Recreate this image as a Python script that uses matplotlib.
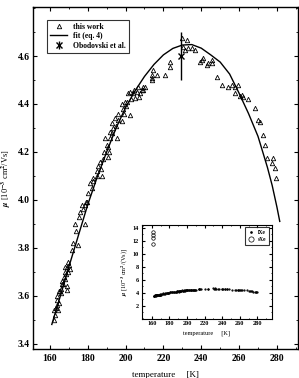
import matplotlib
matplotlib.use('Agg')
import matplotlib.pyplot as plt
import numpy as np
from matplotlib.ticker import MultipleLocator

plt.rcParams['font.family'] = ['Liberation Serif', 'DejaVu Serif']
plt.rcParams['font.weight'] = 'bold'
plt.rcParams['mathtext.fontset'] = 'stix'

# measured points (this work), temperature [K] and mobility
t_data = [162.0, 162.6, 163.0, 162.4, 163.5, 164.4, 164.0, 164.8, 163.8, 165.3,
          164.6, 166.0, 165.8, 167.0, 166.5, 168.8, 168.8, 167.5, 168.0, 168.5,
          169.0, 169.5, 170.0, 170.6, 169.3, 168.2, 171.5, 172.3, 175.0, 173.8,
          173.2, 178.5, 175.2, 176.0, 177.6, 178.5, 179.0, 177.0, 166.2, 167.8,
          179.4, 180.3, 182.0, 182.9, 181.2, 184.7, 187.3, 185.6, 186.5, 188.2,
          190.8, 190.8, 190.0, 189.1, 191.7, 195.3, 191.7, 192.6, 194.4, 193.5,
          197.9, 196.1, 202.3, 196.1, 197.9, 199.7, 200.6, 198.8, 201.4, 202.3,
          204.1, 205.0, 207.6, 208.5, 206.7, 210.3, 213.8, 209.4, 209.4, 214.7,
          213.8, 216.5, 220.9, 213.8, 223.5, 223.5, 183.0, 185.0, 187.0, 188.5,
          191.0, 193.0, 195.0, 199.0, 200.0, 203.0, 204.5, 206.0, 207.0,
          229.7, 232.3, 230.5, 233.2, 235.0, 231.4, 236.7, 240.3, 241.1, 239.4,
          243.7, 245.5, 245.5, 242.9, 248.2, 250.8, 254.3, 256.1, 257.9, 259.6,
          257.9, 260.5, 261.4, 262.3, 264.9, 268.5, 270.2, 271.1, 272.9, 273.8,
          274.7, 277.3, 278.1, 279.0, 279.6]
mu_data = [3.50, 3.52, 3.55, 3.54, 3.56, 3.54, 3.58, 3.57, 3.60, 3.62,
           3.62, 3.61, 3.63, 3.65, 3.66, 3.64, 3.625, 3.68, 3.70, 3.69,
           3.72, 3.70, 3.73, 3.71, 3.74, 3.72, 3.79, 3.82, 3.81, 3.87,
           3.90, 3.90, 3.93, 3.95, 3.96, 3.98, 3.99, 3.98, 3.65, 3.67,
           3.99, 4.03, 4.05, 4.08, 4.07, 4.10, 4.10, 4.14, 4.16, 4.17,
           4.18, 4.22, 4.23, 4.26, 4.26, 4.26, 4.285, 4.32, 4.34, 4.30,
           4.33, 4.335, 4.354, 4.36, 4.40, 4.41, 4.41, 4.38, 4.444, 4.451,
           4.444, 4.424, 4.444, 4.458, 4.472, 4.472, 4.507, 4.472, 4.458, 4.542,
           4.52, 4.52, 4.52, 4.50, 4.576, 4.556, 4.09, 4.12, 4.13, 4.20,
           4.20, 4.28, 4.31, 4.36, 4.39, 4.42, 4.46, 4.45, 4.43,
           4.674, 4.667, 4.639, 4.632, 4.632, 4.625, 4.625, 4.583, 4.59, 4.576,
           4.569, 4.583, 4.569, 4.562, 4.514, 4.479, 4.472, 4.479, 4.472, 4.479,
           4.444, 4.433, 4.438, 4.428, 4.419, 4.382, 4.333, 4.326, 4.271, 4.229,
           4.174, 4.153, 4.174, 4.132, 4.093]

# fit (eq. 4)
t_fit = [161.0, 165, 170, 175, 180, 185, 190, 195, 200, 205, 210, 215, 220,
         225, 230, 235, 240, 245, 250, 255, 260, 265, 270, 275, 277.5, 280, 281.5]
mu_fit = [3.48, 3.585, 3.72, 3.85, 3.98, 4.095, 4.20, 4.30, 4.385, 4.455, 4.515,
          4.565, 4.605, 4.632, 4.646, 4.648, 4.633, 4.605, 4.575, 4.525, 4.445,
          4.36, 4.265, 4.135, 4.06, 3.97, 3.91]

# Obodovski et al.
t_obo = [229.5]
mu_obo = [4.60]
err_obo = [0.10]

# inset: solid xenon points
t_sxe = [161.5, 161.5, 161.5, 161.5]
mu_sxe = [13.3, 12.9, 12.4, 11.5]

fig = plt.figure(figsize=(2.99, 3.78), dpi=100)
ax = fig.add_axes([0.110, 0.077, 0.887, 0.904])

ax.plot(t_data, mu_data, linestyle='none', marker='^', markersize=3.2,
        mfc='none', mec='black', mew=0.6, label='this work')
ax.plot(t_fit, mu_fit, color='black', lw=1.0, label='fit (eq. 4)')
ax.errorbar(t_obo, mu_obo, yerr=err_obo, fmt='x', color='black', markersize=4,
            mew=1.0, elinewidth=1.0, capsize=0, label='Obodovski et al.')

ax.set_xlim(151, 291.2)
ax.set_ylim(3.378, 4.804)
ax.xaxis.set_major_locator(MultipleLocator(20))
ax.xaxis.set_minor_locator(MultipleLocator(10))
ax.yaxis.set_major_locator(MultipleLocator(0.2))
ax.yaxis.set_minor_locator(MultipleLocator(0.1))
ax.tick_params(which='both', direction='in', top=True, right=True, labelsize=7)
ax.tick_params(axis='y', pad=2.5)
ax.tick_params(which='major', length=3)
ax.tick_params(which='minor', length=1.5)
ax.set_yticks([3.4, 3.6, 3.8, 4.0, 4.2, 4.4, 4.6])
ax.set_yticklabels(['3.4', '3.6', '3.8', '4.0', '4.2', '4.4', '4.6'])
ax.set_xticks([160, 180, 200, 220, 240, 260, 280])
ax.set_xlabel('temperature     [K]', fontsize=6.5, labelpad=6)
ax.set_ylabel(r'$\mu$ [10$^{-3}$ cm$^{2}$/Vs]', fontsize=6)
ax.yaxis.set_label_coords(-0.075, 0.5)
for s in ax.spines.values():
    s.set_linewidth(1.0)

leg = ax.legend(loc='upper left', bbox_to_anchor=(0.04, 0.975), fontsize=5.5,
                frameon=True, fancybox=False, edgecolor='black',
                handlelength=2.2, borderpad=0.4, labelspacing=0.2)
leg.get_frame().set_linewidth(0.8)

# inset
ins = fig.add_axes([0.474, 0.157, 0.435, 0.249])
ins.plot(t_data, mu_data, linestyle='none', marker='.', markersize=1.2,
         color='black', label='lXe')
ins.plot(t_sxe, mu_sxe, linestyle='none', marker='o', markersize=2.5,
         mfc='none', mec='black', mew=0.5, label='sXe')
ins.set_xlim(148.6, 296.4)
ins.set_ylim(0, 14.5)
ins.xaxis.set_major_locator(MultipleLocator(20))
ins.xaxis.set_minor_locator(MultipleLocator(10))
ins.set_yticks([2, 4, 6, 8, 10, 12, 14])
ins.yaxis.set_minor_locator(MultipleLocator(1))
ins.set_xticks([160, 180, 200, 220, 240, 260, 280])
ins.tick_params(which='both', direction='in', top=True, right=True, labelsize=4.5,
                pad=2)
ins.tick_params(which='major', length=2)
ins.tick_params(which='minor', length=1)
ins.set_xlabel('temperature     [K]', fontsize=4.5, labelpad=3)
ins.set_ylabel(r'$\mu$ [10$^{-3}$ cm$^{2}$/(Vs)]', fontsize=4.5, labelpad=2)
for s in ins.spines.values():
    s.set_linewidth(0.8)
ileg = ins.legend(loc='upper right', fontsize=4, frameon=True, fancybox=False,
                  edgecolor='black', handlelength=1.0, borderpad=0.5,
                  labelspacing=0.3, markerscale=1.5)
ileg.get_frame().set_linewidth(0.8)

fig.savefig('out.png', dpi=100)
